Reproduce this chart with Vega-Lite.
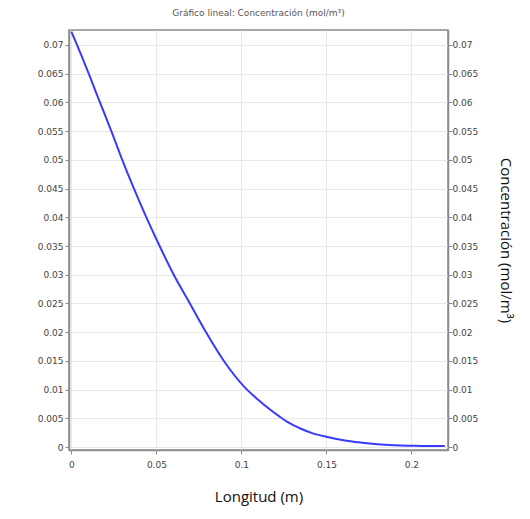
{
  "$schema": "https://vega.github.io/schema/vega-lite/v6.json",
  "autosize": {"type": "none"},
  "padding": {"left": 69, "top": 30, "right": 82, "bottom": 69},
  "width": 379,
  "height": 420,
  "background": "white",
  "title": {
    "text": "Gráfico lineal: Concentración (mol/m³)",
    "fontSize": 9,
    "font": "DejaVu Sans",
    "fontWeight": "normal",
    "color": "#555555",
    "offset": 12,
    "anchor": "middle"
  },
  "config": {
    "view": {"stroke": "#8a8a8a", "strokeWidth": 1.5},
    "axis": {
      "labelFont": "DejaVu Sans",
      "labelFontSize": 9,
      "labelColor": "#444444",
      "titleFont": "Open Sans",
      "titleFontSize": 14,
      "titleFontWeight": "normal",
      "titleColor": "#111111",
      "domainColor": "#8a8a8a",
      "domainWidth": 1.5,
      "tickColor": "#8a8a8a",
      "gridColor": "#e8e8e8",
      "gridWidth": 1
    }
  },
  "data": {
    "values": [
      {"x": 0.0, "c": 0.0723},
      {"x": 0.0033, "c": 0.0700},
      {"x": 0.0102, "c": 0.0650},
      {"x": 0.0168, "c": 0.0600},
      {"x": 0.0235, "c": 0.0550},
      {"x": 0.0299, "c": 0.0500},
      {"x": 0.0368, "c": 0.0450},
      {"x": 0.0441, "c": 0.0400},
      {"x": 0.0519, "c": 0.0350},
      {"x": 0.0602, "c": 0.0300},
      {"x": 0.0697, "c": 0.0250},
      {"x": 0.0792, "c": 0.0200},
      {"x": 0.0897, "c": 0.0150},
      {"x": 0.1020, "c": 0.0104},
      {"x": 0.1100, "c": 0.0082},
      {"x": 0.1170, "c": 0.0065},
      {"x": 0.1225, "c": 0.0053},
      {"x": 0.1270, "c": 0.0044},
      {"x": 0.1350, "c": 0.0032},
      {"x": 0.1420, "c": 0.0024},
      {"x": 0.1500, "c": 0.0018},
      {"x": 0.1600, "c": 0.0012},
      {"x": 0.1700, "c": 0.0008},
      {"x": 0.1800, "c": 0.0005},
      {"x": 0.1900, "c": 0.00033},
      {"x": 0.2000, "c": 0.00025},
      {"x": 0.2100, "c": 0.0002},
      {"x": 0.2196, "c": 0.0002}
    ]
  },
  "layer": [
    {
      "mark": {"type": "line", "color": "#3a3aff", "strokeWidth": 2, "interpolate": "monotone", "clip": true},
      "encoding": {
        "x": {
          "field": "x", "type": "quantitative",
          "scale": {"domain": [-0.0014, 0.2215], "nice": false, "zero": false},
          "axis": {
            "title": "Longitud (m)",
            "values": [0, 0.05, 0.1, 0.15, 0.2],
            "format": "~g",
            "tickSize": 4,
            "labelPadding": 6,
            "titlePadding": 20,
            "titleFontSize": 15,
            "grid": true
          }
        },
        "y": {
          "field": "c", "type": "quantitative",
          "scale": {"domain": [-0.0005, 0.0726], "nice": false, "zero": false},
          "axis": {
            "title": null,
            "orient": "left",
            "values": [0, 0.005, 0.01, 0.015, 0.02, 0.025, 0.03, 0.035, 0.04, 0.045, 0.05, 0.055, 0.06, 0.065, 0.07],
            "format": "~g",
            "tickSize": 4,
            "labelPadding": 2,
            "grid": true
          }
        }
      }
    },
    {
      "mark": {"type": "line", "opacity": 0},
      "encoding": {
        "x": {"field": "x", "type": "quantitative"},
        "y": {
          "field": "c", "type": "quantitative",
          "axis": {
            "title": "Concentración (mol/m³)",
            "orient": "right",
            "values": [0, 0.005, 0.01, 0.015, 0.02, 0.025, 0.03, 0.035, 0.04, 0.045, 0.05, 0.055, 0.06, 0.065, 0.07],
            "format": "~g",
            "tickSize": 4,
            "labelPadding": 0,
            "titlePadding": 20,
            "titleFontSize": 15,
            "grid": false
          }
        }
      }
    }
  ],
  "resolve": {"axis": {"y": "independent"}}
}
